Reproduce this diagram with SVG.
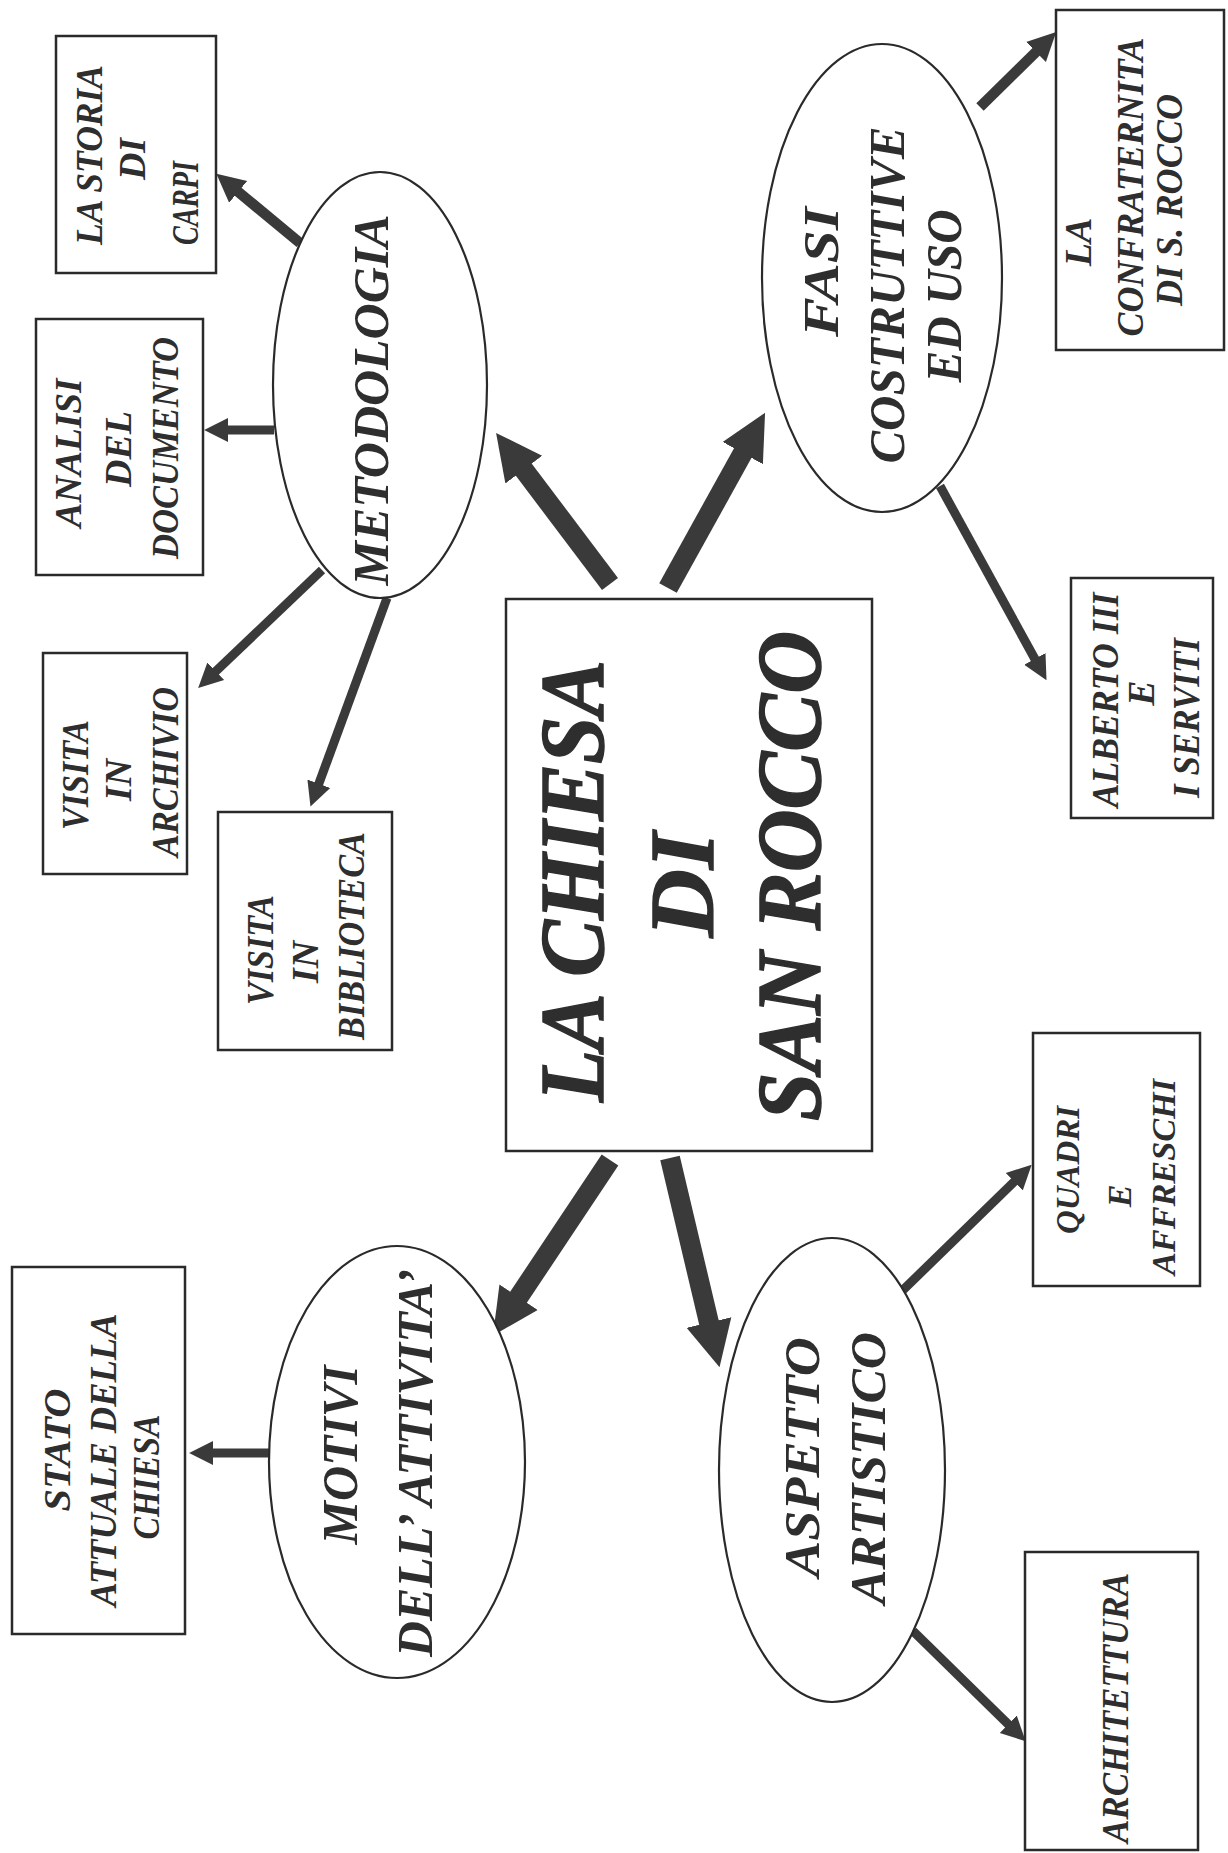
<svg xmlns="http://www.w3.org/2000/svg" width="1228" height="1853" viewBox="0 0 1228 1853">
<defs>
<style>
.box{fill:#fff;stroke:#2a2a2a;stroke-width:2.5}
.ell{fill:#fff;stroke:#2a2a2a;stroke-width:2.2}
.t{font-family:"Liberation Serif","Times New Roman",serif;font-weight:bold;font-style:italic;fill:#2e2e2e;text-anchor:middle}
.tc{font-size:92px;stroke:#2e2e2e;stroke-width:1.5}
.te{font-size:50px}
.tb{font-size:38px}
.tq{font-size:34px}
.a{stroke:#3a3a3a;fill:none;stroke-linecap:butt}
.as{stroke-width:9;marker-end:url(#arrS)}
.am{stroke-width:10.5;marker-end:url(#arrS)}
.ab{stroke-width:20;marker-end:url(#arrB)}
</style>
<marker id="arrS" viewBox="0 0 10 10" refX="1" refY="5" markerWidth="2.7" markerHeight="3" orient="auto" markerUnits="strokeWidth"><path d="M0,0 L10,5 L0,10 z" fill="#3a3a3a"/></marker>
<marker id="arrB" viewBox="0 0 10 10" refX="1" refY="5" markerWidth="2.3" markerHeight="2.7" orient="auto" markerUnits="strokeWidth"><path d="M0,0 L10,5 L0,10 z" fill="#3a3a3a"/></marker>
</defs>
<rect width="1228" height="1853" fill="#fff"/>

<g id="connectors">
<line class="a ab" x1="610" y1="584" x2="521" y2="466"/>
<line class="a ab" x1="668" y1="588" x2="745" y2="449"/>
<line class="a ab" x1="610" y1="1160" x2="516" y2="1301"/>
<line class="a ab" x1="670" y1="1158" x2="710" y2="1327"/>
<line class="a am" x1="300" y1="243" x2="236" y2="190"/>
<line class="a as" x1="274" y1="430" x2="226" y2="430"/>
<line class="a as" x1="322" y1="570" x2="214" y2="673"/>
<line class="a as" x1="387" y1="598" x2="318" y2="786"/>
<line class="a am" x1="980" y1="107" x2="1038" y2="50"/>
<line class="a as" x1="940" y1="486" x2="1036" y2="661"/>
<line class="a as" x1="270" y1="1453" x2="211" y2="1453"/>
<line class="a as" x1="903" y1="1290" x2="1016" y2="1180"/>
<line class="a as" x1="913" y1="1631" x2="1010" y2="1726"/>
</g>

<g id="center">
<rect class="box" x="506" y="599" width="366" height="552"/>
<text class="t tc" transform="translate(603,881) rotate(-90)" textLength="442" lengthAdjust="spacingAndGlyphs">LA CHIESA</text>
<text class="t tc" transform="translate(713,885) rotate(-90)" textLength="105" lengthAdjust="spacingAndGlyphs">DI</text>
<text class="t tc" transform="translate(820,876) rotate(-90)" textLength="490" lengthAdjust="spacingAndGlyphs">SAN ROCCO</text>
</g>

<g id="metodologia">
<ellipse class="ell" cx="380" cy="385" rx="107" ry="213"/>
<text class="t te" transform="translate(388,400) rotate(-90)" textLength="371" lengthAdjust="spacingAndGlyphs">METODOLOGIA</text>
</g>

<g id="fasi">
<ellipse class="ell" cx="882" cy="278" rx="120" ry="234"/>
<text class="t te" transform="translate(838,272) rotate(-90)" textLength="130" lengthAdjust="spacingAndGlyphs">FASI</text>
<text class="t te" transform="translate(904,295) rotate(-90)" textLength="337" lengthAdjust="spacingAndGlyphs">COSTRUTTIVE</text>
<text class="t te" transform="translate(961,296) rotate(-90)" textLength="173" lengthAdjust="spacingAndGlyphs">ED USO</text>
</g>

<g id="motivi">
<ellipse class="ell" cx="397" cy="1462" rx="128" ry="216"/>
<text class="t te" transform="translate(357,1455) rotate(-90)" textLength="179" lengthAdjust="spacingAndGlyphs">MOTIVI</text>
<text class="t te" transform="translate(432,1463) rotate(-90)" textLength="388" lengthAdjust="spacingAndGlyphs">DELL’ ATTIVITA’</text>
</g>

<g id="aspetto">
<ellipse class="ell" cx="832" cy="1470" rx="113" ry="232"/>
<text class="t te" transform="translate(819,1457) rotate(-90)" textLength="240" lengthAdjust="spacingAndGlyphs">ASPETTO</text>
<text class="t te" transform="translate(885,1468) rotate(-90)" textLength="272" lengthAdjust="spacingAndGlyphs">ARTISTICO</text>
</g>

<g id="storia">
<rect class="box" x="56" y="36" width="160" height="237"/>
<text class="t tb" transform="translate(102,155) rotate(-90)" textLength="180" lengthAdjust="spacingAndGlyphs">LA STORIA</text>
<text class="t tb" transform="translate(145,159) rotate(-90)">DI</text>
<text class="t tb" transform="translate(198,203) rotate(-90)" textLength="84" lengthAdjust="spacingAndGlyphs">CARPI</text>
</g>

<g id="analisi">
<rect class="box" x="36" y="319" width="167" height="256"/>
<text class="t tb" transform="translate(81,453) rotate(-90)" textLength="149" lengthAdjust="spacingAndGlyphs">ANALISI</text>
<text class="t tb" transform="translate(131,449) rotate(-90)">DEL</text>
<text class="t tb" transform="translate(178,448) rotate(-90)" textLength="222" lengthAdjust="spacingAndGlyphs">DOCUMENTO</text>
</g>

<g id="archivio">
<rect class="box" x="43" y="653" width="144" height="221"/>
<text class="t tb" transform="translate(88,775) rotate(-90)" textLength="110" lengthAdjust="spacingAndGlyphs">VISITA</text>
<text class="t tb" transform="translate(131,780) rotate(-90)">IN</text>
<text class="t tb" transform="translate(178,772) rotate(-90)" textLength="170" lengthAdjust="spacingAndGlyphs">ARCHIVIO</text>
</g>

<g id="biblioteca">
<rect class="box" x="218" y="812" width="174" height="238"/>
<text class="t tb" transform="translate(273,950) rotate(-90)" textLength="110" lengthAdjust="spacingAndGlyphs">VISITA</text>
<text class="t tb" transform="translate(318,962) rotate(-90)">IN</text>
<text class="t tb" transform="translate(364,936) rotate(-90)" textLength="208" lengthAdjust="spacingAndGlyphs">BIBLIOTECA</text>
</g>

<g id="stato">
<rect class="box" x="12" y="1267" width="173" height="367"/>
<text class="t tb" transform="translate(70,1450) rotate(-90)" textLength="123" lengthAdjust="spacingAndGlyphs">STATO</text>
<text class="t tb" transform="translate(116,1460) rotate(-90)" textLength="293" lengthAdjust="spacingAndGlyphs">ATTUALE DELLA</text>
<text class="t tb" transform="translate(159,1477) rotate(-90)" textLength="125" lengthAdjust="spacingAndGlyphs">CHIESA</text>
</g>

<g id="confraternita">
<rect class="box" x="1056" y="10" width="168" height="340"/>
<text class="t tb" transform="translate(1091,242) rotate(-90)">LA</text>
<text class="t tb" transform="translate(1143,187) rotate(-90)" textLength="299" lengthAdjust="spacingAndGlyphs">CONFRATERNITA</text>
<text class="t tb" transform="translate(1182,200) rotate(-90)" textLength="212" lengthAdjust="spacingAndGlyphs">DI S. ROCCO</text>
</g>

<g id="alberto">
<rect class="box" x="1071" y="578" width="142" height="240"/>
<text class="t tb" transform="translate(1118,700) rotate(-90)" textLength="215" lengthAdjust="spacingAndGlyphs">ALBERTO III</text>
<text class="t tb" transform="translate(1154,693) rotate(-90)">E</text>
<text class="t tb" transform="translate(1199,718) rotate(-90)" textLength="160" lengthAdjust="spacingAndGlyphs">I SERVITI</text>
</g>

<g id="quadri">
<rect class="box" x="1033" y="1033" width="167" height="253"/>
<text class="t tq" transform="translate(1079,1170) rotate(-90)" textLength="128" lengthAdjust="spacingAndGlyphs">QUADRI</text>
<text class="t tq" transform="translate(1131,1196) rotate(-90)">E</text>
<text class="t tq" transform="translate(1175,1177) rotate(-90)" textLength="196" lengthAdjust="spacingAndGlyphs">AFFRESCHI</text>
</g>

<g id="architettura">
<rect class="box" x="1025" y="1552" width="173" height="298"/>
<text class="t tb" transform="translate(1128,1708) rotate(-90)" textLength="270" lengthAdjust="spacingAndGlyphs">ARCHITETTURA</text>
</g>
</svg>
